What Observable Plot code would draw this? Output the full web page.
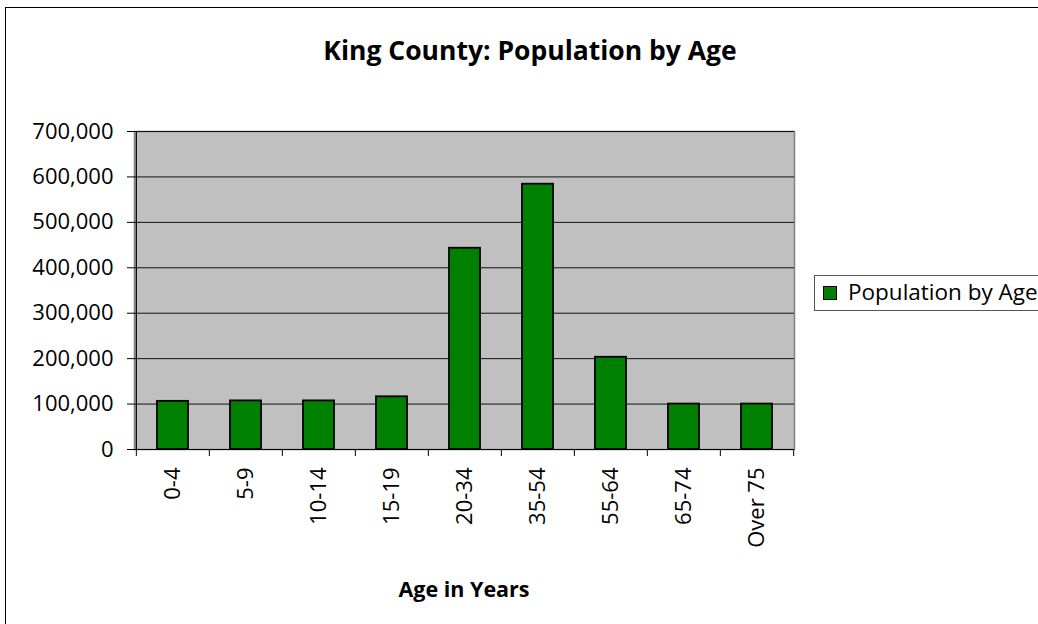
<!DOCTYPE html>
<html>
<head>
<meta charset="utf-8">
<script src="https://cdn.jsdelivr.net/npm/d3@7"></script>
<script src="https://cdn.jsdelivr.net/npm/@observablehq/plot@0.6"></script>
<style>
  html, body { margin: 0; padding: 0; background: #fff; overflow: hidden; }
  #wrap { position: relative; width: 1038px; height: 624px; overflow: hidden; font-family: "Open Sans", sans-serif; }
  #border { position: absolute; left: 5px; top: 7px; width: 1100px; height: 700px; border-left: 1.5px solid #000; border-top: 1.5px solid #000; }
  #title { position: absolute; left: 0; width: 1060px; top: 32px; text-align: center; font-weight: bold; font-size: 26.5px; color: #000; }
  #xlabel { position: absolute; left: 264px; width: 400px; top: 574px; text-align: center; font-weight: bold; font-size: 21.5px; color: #000; }
  #legend { position: absolute; left: 814px; top: 275px; width: 260px; height: 34px; border: 1px solid #555; background: #fff; }
  #legend .sw { position: absolute; left: 8px; top: 10px; width: 12px; height: 12px; background: #008000; border: 1.5px solid #000; }
  #legend .lt { position: absolute; left: 33px; top: 0px; font-size: 22.5px; color: #000; white-space: nowrap; }
  svg { position: absolute; left: 0; top: 0; }
</style>
</head>
<body>
<div id="wrap">
  <div id="border"></div>
  <div id="chart"></div>
  <div id="title">King County: Population by Age</div>
  <div id="xlabel">Age in Years</div>
  <div id="legend"><div class="sw"></div><div class="lt">Population by Age</div></div>
</div>
<script>
const categories = ["0-4", "5-9", "10-14", "15-19", "20-34", "35-54", "55-64", "65-74", "Over 75"];
const population = [106000, 107000, 107000, 116000, 443000, 584000, 203000, 100000, 100000];
const yTicks = [0, 100000, 200000, 300000, 400000, 500000, 600000, 700000];

const data = categories.map((c, i) => ({age: c, pop: population[i]}));
const lastCat = [categories[categories.length - 1]];

const W = 1038, H = 624;
const mL = 134, mR = W - 794, mT = 131, mB = H - 449;
const bw = (W - mL - mR) / categories.length;

const chart = Plot.plot({
  width: W,
  height: H,
  marginLeft: mL,
  marginRight: mR,
  marginTop: mT,
  marginBottom: mB,
  style: {fontFamily: "'Open Sans', sans-serif", fontSize: "22px", color: "#000", background: "transparent", overflow: "visible"},
  x: {type: "band", domain: categories, padding: 0},
  y: {domain: [0, 700000]},
  marks: [
    Plot.frame({fill: "#c0c0c0", stroke: "#808080", strokeWidth: 1.5}),
    Plot.ruleY(yTicks.slice(1), {stroke: "#111", strokeWidth: 1}),
    Plot.barY(data, {x: "age", y: "pop", fill: "#008000", stroke: "#000", strokeWidth: 1.8, insetLeft: 21, insetRight: 21}),
    Plot.ruleY([0], {stroke: "#000", strokeWidth: 1.2}),
    Plot.ruleX([0], {x: () => categories[0], dx: -bw / 2, y1: 0, y2: 700000, stroke: "#000", strokeWidth: 1.2}),
    Plot.axisY({ticks: yTicks, tickSize: 7, tickPadding: 14, tickFormat: d3.format(","), label: null, fontSize: 22, stroke: "#000"}),
    Plot.ruleX(categories, {x: d => d, dx: -bw / 2, y1: 0, y2: 0, insetBottom: -7, stroke: "#000", strokeWidth: 1}),
    Plot.ruleX(lastCat, {x: d => d, dx: bw / 2, y1: 0, y2: 0, insetBottom: -7, stroke: "#000", strokeWidth: 1}),
    Plot.axisX({tickSize: 0, tickPadding: 18, tickRotate: -90, label: null, fontSize: 22})
  ]
});
document.getElementById("chart").appendChild(chart);
</script>
</body>
</html>
